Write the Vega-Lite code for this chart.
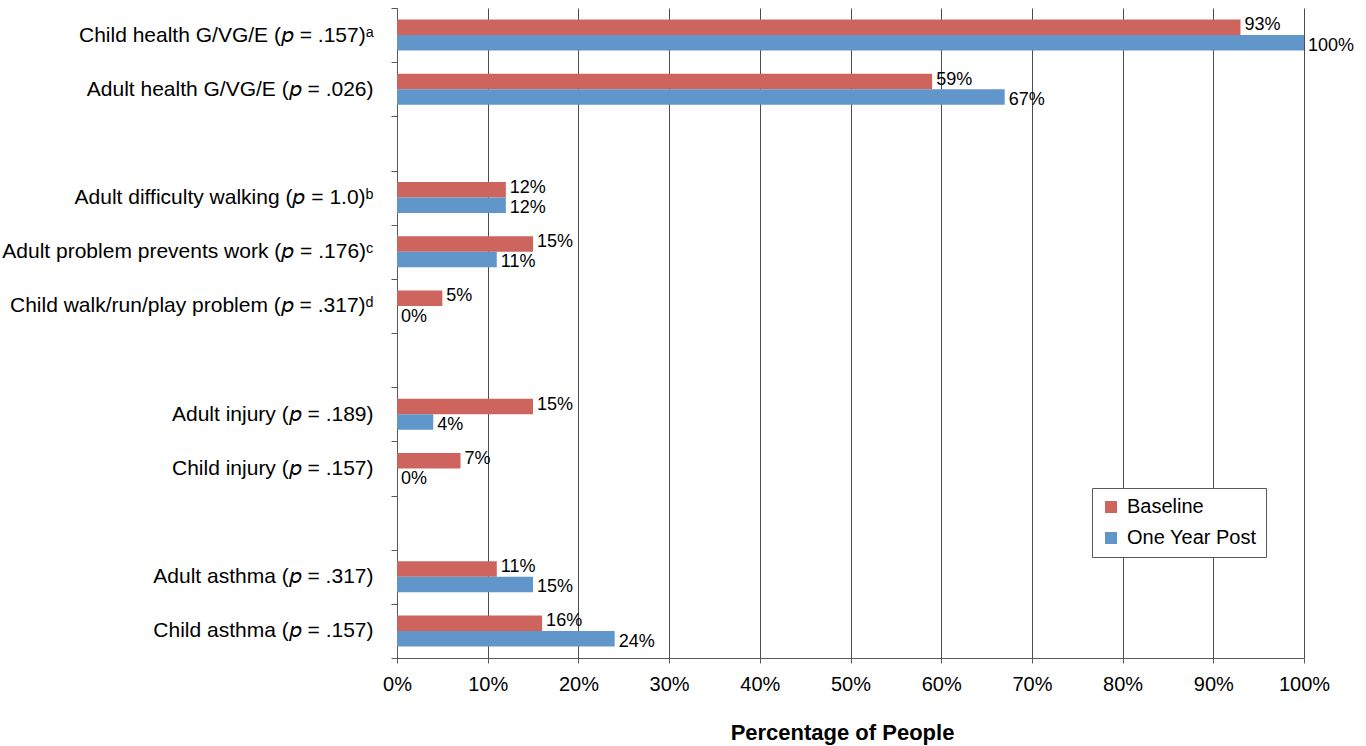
{
  "$schema": "https://vega.github.io/schema/vega-lite/v6.json",
  "autosize": "none",
  "width": 907,
  "height": 650,
  "padding": {"left": 397, "top": 8, "right": 62, "bottom": 88},
  "background": "white",
  "config": {
    "font": "Liberation Sans",
    "view": {"stroke": null}
  },
  "data": {
    "values": [
      {"measure": "Child health G/VG/E (𝘱 = .157)ᵃ", "series": "Baseline", "value": 0.93},
      {"measure": "Child health G/VG/E (𝘱 = .157)ᵃ", "series": "One Year Post", "value": 1.0},
      {"measure": "Adult health G/VG/E (𝘱 = .026)", "series": "Baseline", "value": 0.59},
      {"measure": "Adult health G/VG/E (𝘱 = .026)", "series": "One Year Post", "value": 0.67},
      {"measure": "Adult difficulty walking (𝘱 = 1.0)ᵇ", "series": "Baseline", "value": 0.12},
      {"measure": "Adult difficulty walking (𝘱 = 1.0)ᵇ", "series": "One Year Post", "value": 0.12},
      {"measure": "Adult problem prevents work (𝘱 = .176)ᶜ", "series": "Baseline", "value": 0.15},
      {"measure": "Adult problem prevents work (𝘱 = .176)ᶜ", "series": "One Year Post", "value": 0.11},
      {"measure": "Child walk/run/play problem (𝘱 = .317)ᵈ", "series": "Baseline", "value": 0.05},
      {"measure": "Child walk/run/play problem (𝘱 = .317)ᵈ", "series": "One Year Post", "value": 0.0},
      {"measure": "Adult injury (𝘱 = .189)", "series": "Baseline", "value": 0.15},
      {"measure": "Adult injury (𝘱 = .189)", "series": "One Year Post", "value": 0.04},
      {"measure": "Child injury (𝘱 = .157)", "series": "Baseline", "value": 0.07},
      {"measure": "Child injury (𝘱 = .157)", "series": "One Year Post", "value": 0.0},
      {"measure": "Adult asthma (𝘱 = .317)", "series": "Baseline", "value": 0.11},
      {"measure": "Adult asthma (𝘱 = .317)", "series": "One Year Post", "value": 0.15},
      {"measure": "Child asthma (𝘱 = .157)", "series": "Baseline", "value": 0.16},
      {"measure": "Child asthma (𝘱 = .157)", "series": "One Year Post", "value": 0.24}
    ]
  },
  "encoding": {
    "y": {
      "field": "measure",
      "type": "nominal",
      "scale": {
        "domain": [
          "Child health G/VG/E (𝘱 = .157)ᵃ",
          "Adult health G/VG/E (𝘱 = .026)",
          "_gap1",
          "Adult difficulty walking (𝘱 = 1.0)ᵇ",
          "Adult problem prevents work (𝘱 = .176)ᶜ",
          "Child walk/run/play problem (𝘱 = .317)ᵈ",
          "_gap2",
          "Adult injury (𝘱 = .189)",
          "Child injury (𝘱 = .157)",
          "_gap3",
          "Adult asthma (𝘱 = .317)",
          "Child asthma (𝘱 = .157)"
        ],
        "paddingInner": 0,
        "paddingOuter": 0
      },
      "axis": {
        "title": null,
        "grid": false,
        "tickBand": "extent",
        "tickSize": 6,
        "tickColor": "#595959",
        "domainColor": "#595959",
        "labelFontSize": 21,
        "labelColor": "#000000",
        "labelPadding": 18,
        "labelLimit": 500,
        "labelExpr": "indexof(datum.label, '_gap') === 0 ? '' : datum.label"
      }
    },
    "yOffset": {
      "field": "series",
      "type": "nominal",
      "scale": {"domain": ["Baseline", "One Year Post"], "paddingInner": 0, "paddingOuter": 0.75}
    },
    "x": {
      "field": "value",
      "type": "quantitative",
      "scale": {"domain": [0, 1], "nice": false},
      "axis": {
        "title": "Percentage of People",
        "titleX": 445,
        "values": [0, 0.1, 0.2, 0.3, 0.4, 0.5, 0.6, 0.7, 0.8, 0.9, 1.0],
        "format": ".0%",
        "grid": true,
        "gridColor": "#4d4d4d",
        "gridOpacity": 1,
        "domainColor": "#595959",
        "tickColor": "#595959",
        "tickSize": 5,
        "labelFontSize": 20,
        "labelColor": "#000000",
        "labelPadding": 11,
        "labelFlush": false,
        "labelOverlap": false,
        "titleFontSize": 22,
        "titleFontWeight": "bold",
        "titleColor": "#000000",
        "titlePadding": 28
      }
    }
  },
  "layer": [
    {
      "mark": {"type": "bar"},
      "encoding": {
        "color": {
          "field": "series",
          "type": "nominal",
          "scale": {"domain": ["Baseline", "One Year Post"], "range": ["#CD645E", "#6096C9"]},
          "legend": {
            "orient": "none",
            "legendX": 695,
            "legendY": 480,
            "title": null,
            "labelFontSize": 20,
            "labelColor": "#000000",
            "symbolType": "square",
            "symbolSize": 144,
            "symbolStrokeWidth": 0,
            "strokeColor": "#595959",
            "fillColor": "white",
            "padding": 9,
            "rowPadding": 11,
            "labelOffset": 6
          }
        }
      }
    },
    {
      "transform": [{"filter": "datum.series === 'Baseline'"}],
      "mark": {"type": "text", "align": "left", "baseline": "middle", "dx": 4, "dy": -2, "fontSize": 18, "color": "#000000"},
      "encoding": {
        "text": {"field": "value", "type": "quantitative", "format": ".0%"}
      }
    },
    {
      "transform": [{"filter": "datum.series === 'One Year Post'"}],
      "mark": {"type": "text", "align": "left", "baseline": "middle", "dx": 4, "dy": 3, "fontSize": 18, "color": "#000000"},
      "encoding": {
        "text": {"field": "value", "type": "quantitative", "format": ".0%"}
      }
    }
  ]
}
